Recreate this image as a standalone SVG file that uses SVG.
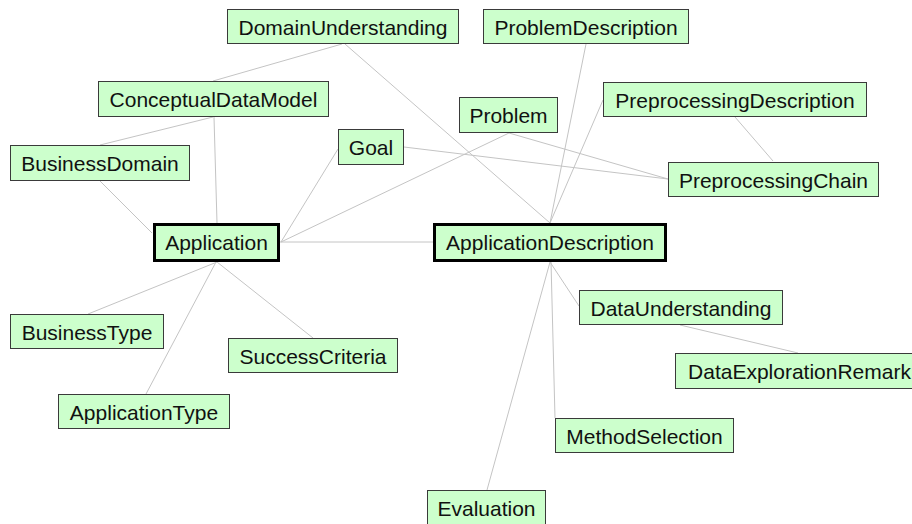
<svg xmlns="http://www.w3.org/2000/svg" width="912" height="524" viewBox="0 0 912 524">
<style>
.bg{fill:#ffffff}
.n rect{fill:#ccffcc;stroke:#3a3a3a;stroke-width:1}
.n.main rect{stroke:#000000;stroke-width:3}
.n text{font-family:"Liberation Sans",Arial,sans-serif;font-size:21px;fill:#111111;text-anchor:middle}
#connectors line{stroke:#c4c4c4;stroke-width:1;fill:none}
</style>
<rect class="bg" x="0" y="0" width="912" height="524"/>
<g id="connectors">
<line x1="342" y1="44" x2="213" y2="81"/>
<line x1="345" y1="44" x2="550" y2="223"/>
<line x1="213" y1="117" x2="100" y2="145"/>
<line x1="214" y1="117" x2="217" y2="223"/>
<line x1="100" y1="181" x2="152" y2="233"/>
<line x1="338" y1="149" x2="281" y2="242"/>
<line x1="404" y1="147" x2="668" y2="179"/>
<line x1="509" y1="133" x2="281" y2="242"/>
<line x1="509" y1="133" x2="668" y2="179"/>
<line x1="280" y1="242" x2="433" y2="242"/>
<line x1="586" y1="44" x2="550" y2="223"/>
<line x1="603" y1="100" x2="550" y2="223"/>
<line x1="735" y1="117" x2="773" y2="161"/>
<line x1="550" y1="262" x2="579" y2="306"/>
<line x1="551" y1="262" x2="555" y2="418"/>
<line x1="550" y1="262" x2="487" y2="490"/>
<line x1="680" y1="325" x2="798" y2="353"/>
<line x1="217" y1="262" x2="88" y2="314"/>
<line x1="216" y1="262" x2="146" y2="394"/>
<line x1="217" y1="262" x2="313" y2="338"/>
</g>
<g id="DomainUnderstanding" class="n"><rect x="227.5" y="9.5" width="231" height="34"/><text x="343" y="34.5">DomainUnderstanding</text></g>
<g id="ProblemDescription" class="n"><rect x="483.5" y="9.5" width="205" height="34"/><text x="586" y="34.5">ProblemDescription</text></g>
<g id="ConceptualDataModel" class="n"><rect x="98.5" y="81.5" width="230" height="35"/><text x="213.5" y="107">ConceptualDataModel</text></g>
<g id="PreprocessingDescription" class="n"><rect x="603.5" y="82.5" width="263" height="34"/><text x="735" y="107.5">PreprocessingDescription</text></g>
<g id="Problem" class="n"><rect x="459.5" y="97.5" width="98" height="35"/><text x="508.5" y="123">Problem</text></g>
<g id="Goal" class="n"><rect x="338.5" y="129.5" width="65" height="35"/><text x="371" y="155">Goal</text></g>
<g id="BusinessDomain" class="n"><rect x="10.5" y="145.5" width="179" height="35"/><text x="100" y="171">BusinessDomain</text></g>
<g id="PreprocessingChain" class="n"><rect x="668.5" y="162.5" width="210" height="34"/><text x="773.5" y="187.5">PreprocessingChain</text></g>
<g id="Application" class="n main"><rect x="154.5" y="224.5" width="124" height="36"/><text x="216.5" y="250">Application</text></g>
<g id="ApplicationDescription" class="n main"><rect x="434.5" y="224.5" width="231" height="36"/><text x="550" y="250">ApplicationDescription</text></g>
<g id="DataUnderstanding" class="n"><rect x="579.5" y="290.5" width="203" height="34"/><text x="681" y="315.5">DataUnderstanding</text></g>
<g id="BusinessType" class="n"><rect x="10.5" y="314.5" width="153" height="34"/><text x="87" y="339.5">BusinessType</text></g>
<g id="SuccessCriteria" class="n"><rect x="228.5" y="338.5" width="169" height="34"/><text x="313" y="363.5">SuccessCriteria</text></g>
<g id="DataExplorationRemark" class="n"><rect x="675.5" y="353.5" width="248" height="35"/><text x="799.5" y="379">DataExplorationRemark</text></g>
<g id="ApplicationType" class="n"><rect x="58.5" y="394.5" width="171" height="34"/><text x="144" y="419.5">ApplicationType</text></g>
<g id="MethodSelection" class="n"><rect x="555.5" y="418.5" width="178" height="34"/><text x="644.5" y="443.5">MethodSelection</text></g>
<g id="Evaluation" class="n"><rect x="427.5" y="490.5" width="118" height="34"/><text x="486.5" y="515.5">Evaluation</text></g>
</svg>
